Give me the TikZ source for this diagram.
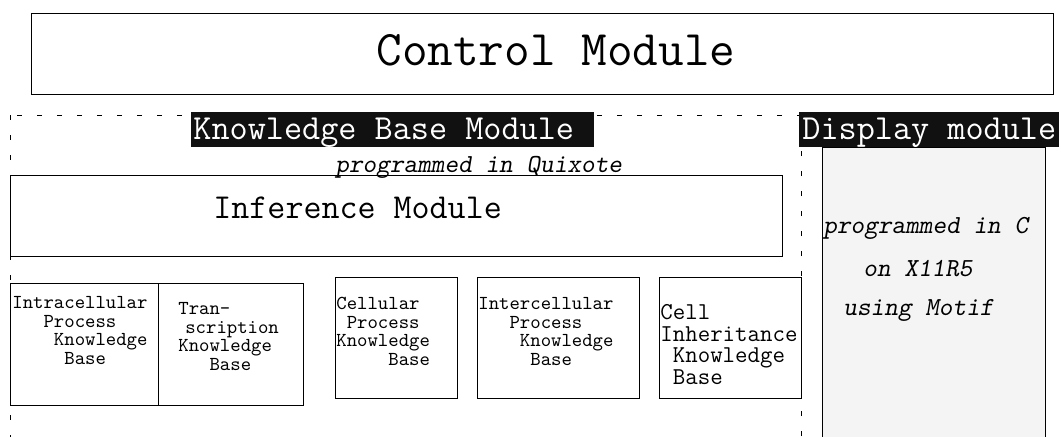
\documentclass[tikz,border=0pt]{standalone}
\usetikzlibrary{shapes,positioning}
\definecolor{panelgray}{HTML}{F4F4F4}
\definecolor{barblack}{HTML}{111111}
\tikzstyle{module} = [rectangle, draw, line width=0.6pt, inner sep=0pt, anchor=north west]
\tikzstyle{kbbox} = [rectangle, draw, line width=0.6pt, inner sep=0pt, anchor=north west]
\tikzstyle{kbtext} = [inner sep=0pt, anchor=north west, align=left,
    font=\ttfamily\fontsize{9.9}{9.3}\selectfont]
\tikzstyle{titlebar} = [rectangle, fill=barblack, text=white, inner ysep=0pt, inner xsep=1pt,
    anchor=north west, text height=13.5pt, text depth=4pt, font=\ttfamily\fontsize{17.6}{20}\selectfont]
\tikzstyle{note} = [inner sep=0pt, anchor=base west, font=\ttfamily\slshape\fontsize{13}{15}\selectfont]
\tikzstyle{frame} = [draw, line width=0.5pt, dash pattern=on 2.5pt off 7.5pt]

\begin{document}
\begin{tikzpicture}[x=0.5pt, y=-0.5pt]
    \clip (0,0) rectangle (1061,436);

    % Control module
    \node [module, minimum width=511pt, minimum height=40.5pt] (control) at (31,13) {};
    \node [inner sep=0pt, anchor=base west, font=\ttfamily\fontsize{24.9}{28}\selectfont] (controltext) at (376,65) {Control Module};

    % Knowledge base frame
    \draw [frame] (10,115) rectangle (801,470);
    \node [titlebar] (kbtitle) at (191,112) {Knowledge Base Module\phantom{x}};

    % Display module
    \node [module, fill=panelgray, minimum width=111.5pt, minimum height=160pt] (display) at (822,147) {};
    \node [titlebar, inner xsep=1.5pt] (disptitle) at (799,112) {Display module};
    \node [note] (displine1) at (823,233) {programmed in C};
    \node [note] (displine2) at (863,276) {on X11R5};
    \node [note] (displine3) at (843,315) {using Motif};

    % Inference module
    \node [module, minimum width=386pt, minimum height=40.5pt] (inference) at (10,175) {};
    \node [inner sep=0pt, anchor=base west, font=\ttfamily\fontsize{17.5}{20}\selectfont] (inferencetext) at (213,218) {Inference Module};
    \node [note] (quixote) at (335,172) {programmed in Quixote};

    % Knowledge bases
    \node [kbbox, minimum width=74pt, minimum height=61pt] (intra) at (10,283) {};
    \node [kbbox, minimum width=72.5pt, minimum height=61pt] (transcription) at (158,283) {};
    \node [kbbox, minimum width=61pt, minimum height=60.5pt] (cellular) at (335,277) {};
    \node [kbbox, minimum width=81pt, minimum height=60.5pt] (inter) at (477,277) {};
    \node [kbbox, minimum width=71pt, minimum height=60.5pt] (inherit) at (659,277) {};

    \node [kbtext] (intratext) at (12,296) {Intracellular\\\phantom{xxx}Process\\\phantom{xxxx}Knowledge\\\phantom{xxxxx}Base};
    \node [kbtext] (transtext) at (178,302) {Tran-\\\hspace*{0.35em}scription\\Knowledge\\\phantom{xxx}Base};
    \node [kbtext] (celltext) at (336,297) {Cellular\\\phantom{x}Process\\Knowledge\\\phantom{xxxxx}Base};
    \node [kbtext] (intertext) at (478,297) {Intercellular\\\phantom{xxx}Process\\\phantom{xxxx}Knowledge\\\phantom{xxxxx}Base};
    \node [kbtext, font=\ttfamily\fontsize{12.1}{10.8}\selectfont] (inherittext) at (660,304) {Cell\\Inheritance\\\phantom{x}Knowledge\\\phantom{x}Base};
\end{tikzpicture}
\end{document}
